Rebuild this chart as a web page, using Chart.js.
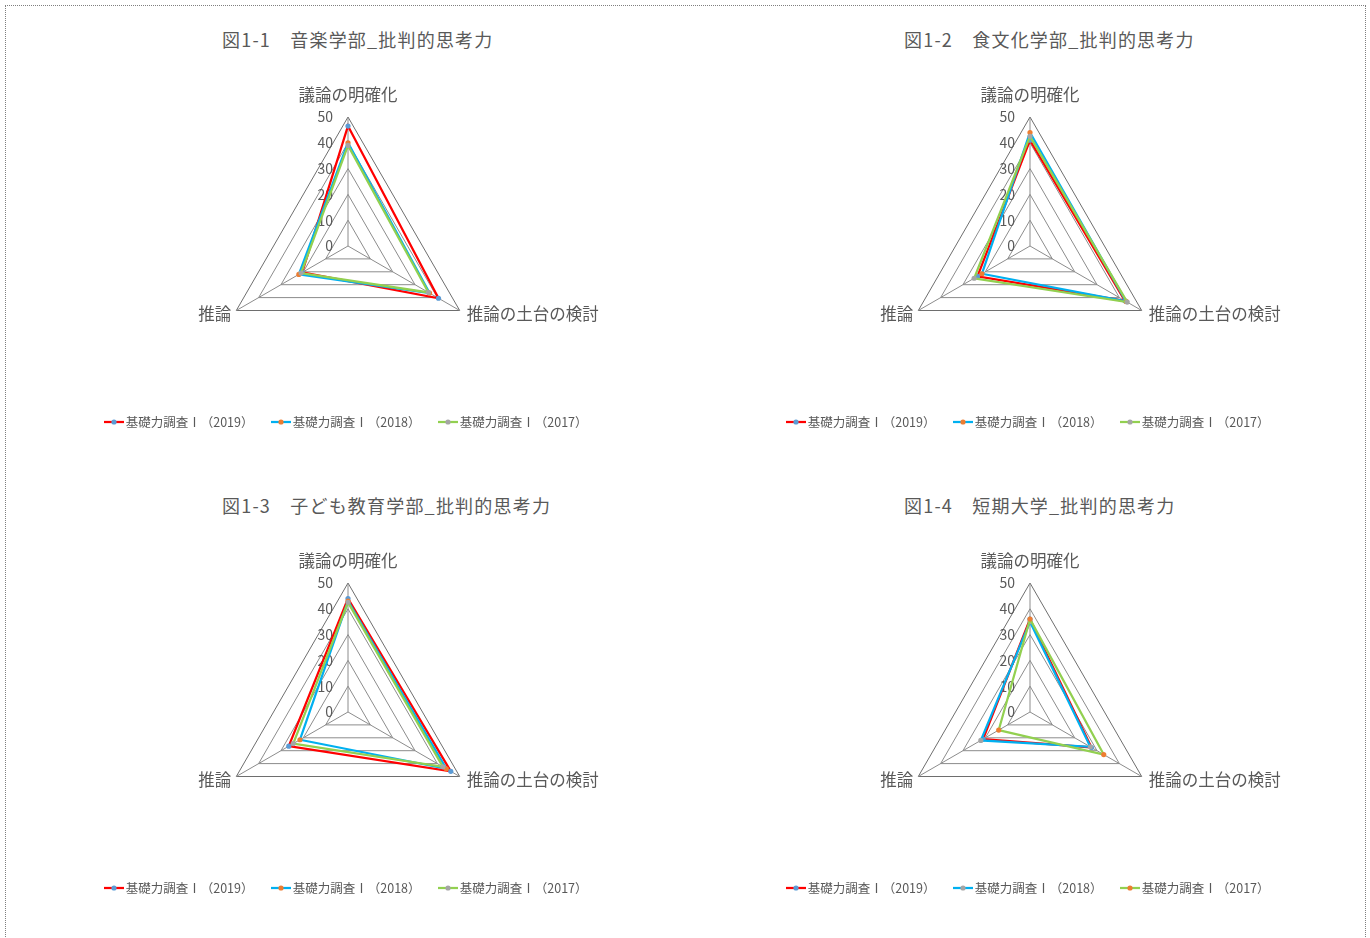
<!DOCTYPE html>
<html lang="ja">
<head>
<meta charset="utf-8">
<title>批判的思考力</title>
<script src="https://cdn.jsdelivr.net/npm/chart.js@4.4.1/dist/chart.umd.min.js"></script>
<style>
  html, body { margin: 0; padding: 0; background: #fff; overflow: hidden; }
  body { width: 1370px; height: 938px; position: relative; font-family: "Noto Sans CJK JP", sans-serif; }
  .frame { position: absolute; left: 5px; top: 5px; width: 1359px; height: 1000px; border: 1px dotted #7f7f7f; }
  .panel { position: absolute; width: 682px; height: 466px; }
  .panel canvas { position: absolute; left: 0; top: 0; }
  .ttl { position: absolute; left: 215px; top: 20px; font-size: 18px; letter-spacing: 1.2px; line-height: 24px; color: #595959; white-space: nowrap; }
</style>
</head>
<body>
<div class="frame"></div>
<div class="panel" style="left:7px;top:7px"><div class="ttl" id="t1"></div><canvas id="c1" width="682" height="466"></canvas></div>
<div class="panel" style="left:689px;top:7px"><div class="ttl" id="t2"></div><canvas id="c2" width="682" height="466"></canvas></div>
<div class="panel" style="left:7px;top:473px"><div class="ttl" id="t3"></div><canvas id="c3" width="682" height="466"></canvas></div>
<div class="panel" style="left:689px;top:473px"><div class="ttl" id="t4"></div><canvas id="c4" width="682" height="466"></canvas></div>
<script>
// 軸ラベル・目盛り・系列名
const axisLabels = ['議論の明確化', '推論の土台の検討', '推論'];
const tickValues = [0, 10, 20, 30, 40, 50];
const seriesNames = ['基礎力調査Ⅰ（2019）', '基礎力調査Ⅰ（2018）', '基礎力調査Ⅰ（2017）'];

const chartTitles = [
    '図1-1　音楽学部_批判的思考力',
    '図1-2　食文化学部_批判的思考力',
    '図1-3　子ども教育学部_批判的思考力',
    '図1-4　短期大学_批判的思考力'
];

// 音楽学部
const music2019 = [46.5, 40.5, 20.5];
const music2018 = [40, 36.5, 22];
const music2017 = [39, 36, 21];
// 食文化学部
const food2019 = [41, 42.5, 23.5];
const food2018 = [44, 43, 21.5];
const food2017 = [42.5, 43.5, 25];
// 子ども教育学部
const child2019 = [44, 46, 26.5];
const child2018 = [43, 44, 21.5];
const child2017 = [42.5, 42.5, 24.5];
// 短期大学
const junior2019 = [36, 27.5, 21];
const junior2018 = [35, 27, 22];
const junior2017 = [36, 33, 14];

// 色
const lineColors = ['#FF0000', '#00B0F0', '#92D050'];
const markerColors = ['#5B9BD5', '#ED7D31', '#A5A5A5'];
const markerColorsJunior = ['#5B9BD5', '#A5A5A5', '#ED7D31'];
const textColor = '#595959';
const fontFamily = '"Noto Sans CJK JP", "Noto Sans", sans-serif';

// 凡例用アイコン（線＋マーカー）
function legendIcon(lineColor, dotColor) {
    const c = document.createElement('canvas');
    c.width = 20;
    c.height = 8;
    const g = c.getContext('2d');
    g.strokeStyle = lineColor;
    g.lineWidth = 2.25;
    g.beginPath();
    g.moveTo(0, 4);
    g.lineTo(20, 4);
    g.stroke();
    g.fillStyle = dotColor;
    g.beginPath();
    g.arc(10, 4, 2.6, 0, Math.PI * 2);
    g.fill();
    return c;
}

// 目盛りラベルと軸ラベルを描く
const radarTextPlugin = {
    id: 'radarText',
    beforeDatasetsDraw(chart) {
        const s = chart.scales.r;
        const ctx = chart.ctx;
        ctx.save();
        ctx.fillStyle = textColor;
        ctx.textBaseline = 'middle';
        ctx.font = '14px ' + fontFamily;
        ctx.textAlign = 'right';
        tickValues.forEach(v => {
            const d = s.getDistanceFromCenterForValue(v);
            ctx.fillText(String(v), s.xCenter - 15, s.yCenter - d);
        });
        ctx.font = '16.5px ' + fontFamily;
        axisLabels.forEach((lab, i) => {
            const p = s.getPointPosition(i, s.drawingArea);
            if (i === 0) {
                ctx.textAlign = 'center';
                ctx.fillText(lab, p.x, p.y - 22);
            } else if (i === 1) {
                ctx.textAlign = 'left';
                ctx.fillText(lab, p.x + 7, p.y + 3);
            } else {
                ctx.textAlign = 'right';
                ctx.fillText(lab, p.x - 5, p.y + 3);
            }
        });
        ctx.restore();
    }
};

function initRadar(canvasId, titleId, title, seriesValues, markers) {
    document.getElementById(titleId).textContent = title;
    const icons = seriesValues.map((_, i) => legendIcon(lineColors[i], markers[i]));

    const datasets = seriesValues.map((vals, i) => ({
        label: seriesNames[i],
        data: vals,
        borderColor: lineColors[i],
        borderWidth: 2.25,
        backgroundColor: 'transparent',
        fill: false,
        pointRadius: 2.6,
        pointBorderWidth: 0,
        pointBackgroundColor: markers[i],
        pointBorderColor: markers[i],
        order: seriesValues.length - 1 - i   // 2017を最前面に
    }));

    return new Chart(document.getElementById(canvasId), {
        type: 'radar',
        data: { labels: axisLabels, datasets: datasets },
        options: {
            responsive: false,
            animation: false,
            devicePixelRatio: 1,
            layout: { padding: { top: 110, bottom: 34.75, left: 0, right: 0 } },
            scales: {
                r: {
                    min: 0,
                    max: 50,
                    ticks: { stepSize: 10, display: false },
                    grid: {
                        color: ctx => (ctx.tick && ctx.tick.value === 50 ? '#6e6e6e' : '#8c8c8c'),
                        lineWidth: 1
                    },
                    angleLines: { color: '#8c8c8c', lineWidth: 1 },
                    pointLabels: { display: false }
                }
            },
            plugins: {
                tooltip: { enabled: false },
                legend: {
                    position: 'bottom',
                    title: { display: true, text: '', font: { size: 10, lineHeight: 1 }, padding: { top: 8.75, bottom: 0 } },
                    labels: {
                        usePointStyle: true,
                        pointStyleWidth: 11,
                        padding: 22,
                        color: textColor,
                        font: { size: 12.5, family: fontFamily },
                        sort: (a, b) => a.datasetIndex - b.datasetIndex,
                        generateLabels(chart) {
                            const items = Chart.defaults.plugins.legend.labels.generateLabels(chart);
                            items.forEach(it => {
                                it.pointStyle = icons[it.datasetIndex];
                                it.fontColor = textColor;
                            });
                            return items;
                        }
                    }
                }
            }
        },
        plugins: [radarTextPlugin]
    });
}

initRadar('c1', 't1', chartTitles[0], [music2019, music2018, music2017], markerColors);
initRadar('c2', 't2', chartTitles[1], [food2019, food2018, food2017], markerColors);
initRadar('c3', 't3', chartTitles[2], [child2019, child2018, child2017], markerColors);
initRadar('c4', 't4', chartTitles[3], [junior2019, junior2018, junior2017], markerColorsJunior);
</script>
</body>
</html>
